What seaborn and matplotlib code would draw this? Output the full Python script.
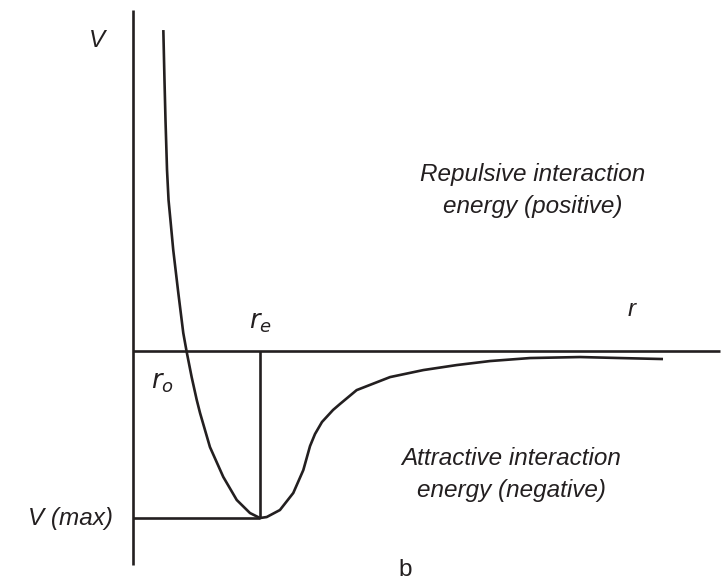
import numpy as np
import pandas as pd
import matplotlib
matplotlib.use("Agg")
import matplotlib.pyplot as plt
import seaborn as sns

# ---- data (r in units of r_e, V in units of |V(max)|) ----
r_vals = [0.239, 0.248, 0.256, 0.268, 0.280, 0.295, 0.317, 0.357, 0.396, 0.423,
          0.462, 0.502, 0.528, 0.606, 0.711, 0.817, 0.921, 1.000, 1.053, 1.157,
          1.262, 1.341, 1.394, 1.433, 1.488, 1.575, 1.630, 1.761, 2.024, 2.286,
          2.549, 2.811, 3.126, 3.520, 3.835, 4.173]
V_vals = [1.922, 1.623, 1.383, 1.084, 0.904, 0.784, 0.605, 0.347, 0.108, -0.006,
          -0.156, -0.293, -0.371, -0.575, -0.754, -0.892, -0.970, -1.000, -0.994, -0.952,
          -0.850, -0.713, -0.569, -0.497, -0.425, -0.353, -0.317, -0.234, -0.156, -0.114,
          -0.084, -0.060, -0.042, -0.036, -0.042, -0.048]
r_e = 1.0
V_max = -1.0
r_axis_end = 4.62
V_axis_top = 2.04
V_axis_bottom = -1.28

df = pd.DataFrame({"r": r_vals, "V": V_vals})

sns.set_style("white")
plt.rcParams['font.family'] = ['Liberation Sans', 'DejaVu Sans']

fig = plt.figure(figsize=(7.26, 5.86), dpi=100)
ax = fig.add_axes([0, 0, 1, 1])
ax.set_xlim(-1.047, 4.669)
ax.set_ylim(-1.407, 2.102)
ax.axis("off")

lw = 1.9
col = "#231f20"
# axes
ax.plot([0, 0], [V_axis_bottom, V_axis_top], color=col, lw=lw, solid_capstyle="butt")
ax.plot([0, r_axis_end], [0, 0], color=col, lw=lw, solid_capstyle="butt")
# guide lines
ax.plot([0, r_e], [V_max, V_max], color=col, lw=lw, solid_capstyle="butt")
ax.plot([r_e, r_e], [0, V_max], color=col, lw=lw, solid_capstyle="butt")

sns.lineplot(data=df, x="r", y="V", sort=False, color=col, lw=lw, ax=ax,
             estimator=None, solid_joinstyle="round", solid_capstyle="butt")

fs = 17.5
tkw = dict(color=col, fontsize=fs, style="italic")
ax.text(-0.28, 1.86, "V", ha="center", va="center", **tkw)
ax.text(r_e, 0.17, r"$r_e$", ha="center", va="center", color=col, fontsize=fs+1,
        math_fontfamily="dejavusans")
ax.text(0.23, -0.19, r"$r_o$", ha="center", va="center", color=col, fontsize=fs+1,
        math_fontfamily="dejavusans")
ax.text(3.93, 0.25, "r", ha="center", va="center", **tkw)
ax.text(-0.16, V_max, "V (max)", ha="right", va="center", **tkw)
ax.text(2.14, -1.31, "b", ha="center", va="center", color=col, fontsize=fs)
ax.text(3.15, 0.96, "Repulsive interaction\nenergy (positive)", ha="center",
        va="center", linespacing=1.5, **tkw)
ax.text(2.98, -0.74, "Attractive interaction\nenergy (negative)", ha="center",
        va="center", linespacing=1.5, **tkw)

fig.savefig("out.png", dpi=100)
